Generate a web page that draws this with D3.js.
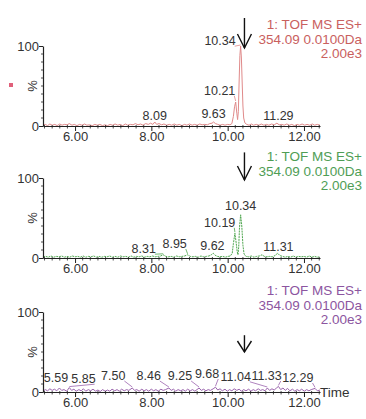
<!DOCTYPE html>
<html>
<head>
<meta charset="utf-8">
<script src="https://cdn.jsdelivr.net/npm/d3@7"></script>
<style>
  html, body { margin: 0; padding: 0; background: #fff; }
  svg { display: block; }
  text { font-family: "Liberation Sans", Arial, sans-serif; }
</style>
</head>
<body>
<svg id="chart" width="366" height="419"></svg>
<script>
// ---------------- DATA ----------------
const timeDomain = [5.16, 12.42];
const xTickValues = [6, 8, 10, 12];
const xTickLabels = ["6.00", "8.00", "10.00", "12.00"];
const yTickValues = [0, 100];
const yTickLabels = ["0", "100"];
const headerLines = ["1: TOF MS ES+", "354.09 0.0100Da", "2.00e3"];
const arrowTime = 10.44;

// trace 1 (red) [time, %]
const trace1 = [[5.16,1],[5.22,2],[5.28,0.5],[5.34,2.5],[5.40,1],[5.47,2],[5.53,0.5],[5.60,2.5],[5.66,1],[5.72,2],[5.79,1.5],[5.85,3],[5.92,1],[5.98,2],[6.05,0.5],[6.12,2],[6.18,1],[6.25,2.5],[6.31,1],[6.38,1.5],[6.45,0.5],[6.52,2],[6.58,1],[6.65,2],[6.72,0.5],[6.78,1.5],[6.85,0.5],[6.92,2],[6.98,1],[7.05,2.5],[7.12,1],[7.18,2],[7.25,0.5],[7.32,2.5],[7.38,1],[7.45,2],[7.52,1.5],[7.58,3],[7.65,1.5],[7.72,2.5],[7.78,1],[7.85,3],[7.92,2],[7.98,3.5],[8.04,2],[8.09,5],[8.14,2],[8.20,3],[8.27,1.5],[8.33,2.5],[8.40,1],[8.47,2],[8.53,1],[8.60,2.5],[8.67,1],[8.73,2],[8.80,0.5],[8.87,2],[8.93,1],[9.00,2.5],[9.07,1],[9.13,2],[9.20,1],[9.27,2.5],[9.33,1.5],[9.40,2],[9.47,1.5],[9.53,3],[9.59,3.5],[9.63,5],[9.68,3],[9.74,2],[9.80,1],[9.87,2],[9.93,1],[10.00,2],[10.06,1.5],[10.11,3],[10.15,12],[10.18,24],[10.21,30],[10.24,16],[10.26,8],[10.28,18],[10.30,55],[10.32,88],[10.34,100],[10.36,85],[10.38,55],[10.40,25],[10.42,10],[10.45,4],[10.50,2],[10.56,1],[10.62,2.5],[10.68,1],[10.75,2],[10.82,1],[10.88,2.5],[10.95,1],[11.02,2],[11.08,1],[11.15,2.5],[11.22,1.5],[11.29,3.5],[11.35,1.5],[11.42,2],[11.48,1],[11.55,2.5],[11.62,1],[11.68,2],[11.75,0.5],[11.82,2],[11.88,1],[11.95,2.5],[12.02,1],[12.08,2],[12.15,1],[12.22,2.5],[12.28,1],[12.35,2],[12.42,1]];

// trace 2 (green)
const trace2 = [[5.16,1.5],[5.23,2],[5.30,1],[5.37,2.5],[5.44,1],[5.51,2],[5.58,1.5],[5.65,2.5],[5.72,1],[5.79,2],[5.86,1],[5.93,2.5],[6.00,1.5],[6.07,2],[6.14,1],[6.21,2.5],[6.28,1],[6.35,2],[6.42,1.5],[6.49,2.5],[6.56,1],[6.63,2],[6.70,1],[6.77,2],[6.84,1.5],[6.91,2.5],[6.98,1],[7.05,2],[7.12,1],[7.19,2.5],[7.26,1.5],[7.33,2],[7.40,1],[7.47,2.5],[7.54,1],[7.61,2],[7.68,1.5],[7.75,2.5],[7.82,1],[7.89,2],[7.96,1.5],[8.03,2.5],[8.10,1.5],[8.17,2],[8.24,2.5],[8.31,4],[8.38,2],[8.45,1.5],[8.52,2],[8.59,1],[8.66,2.5],[8.73,1.5],[8.80,2],[8.87,2.5],[8.95,4],[9.02,2],[9.09,1.5],[9.16,2],[9.23,1],[9.30,2.5],[9.37,1.5],[9.44,2],[9.51,2.5],[9.57,4],[9.62,6],[9.67,3.5],[9.73,2],[9.80,1.5],[9.87,2],[9.94,1],[10.01,2],[10.07,2.5],[10.12,6],[10.15,18],[10.19,31],[10.22,20],[10.25,8],[10.27,4],[10.29,14],[10.31,38],[10.34,54],[10.37,40],[10.40,16],[10.43,5],[10.48,2],[10.55,1.5],[10.62,2.5],[10.69,1],[10.76,2],[10.83,2.5],[10.90,4],[10.96,2],[11.03,1.5],[11.10,2],[11.17,1.5],[11.24,3],[11.31,6],[11.37,3],[11.44,2],[11.51,1],[11.58,2],[11.65,1],[11.72,2.5],[11.79,1],[11.86,2],[11.93,1.5],[12.00,2],[12.07,1],[12.14,2.5],[12.21,1],[12.28,2],[12.35,1],[12.42,1.5]];

// trace 3 (purple)
const trace3 = [[5.16,1],[5.22,3],[5.28,1.5],[5.34,4],[5.40,2],[5.46,3.5],[5.52,1.5],[5.59,5],[5.65,2],[5.71,3],[5.78,1],[5.85,5.5],[5.91,2],[5.97,3.5],[6.03,1],[6.10,3],[6.16,1.5],[6.22,4],[6.28,1],[6.35,3],[6.41,1.5],[6.47,3.5],[6.54,1],[6.60,2.5],[6.66,0.5],[6.72,3],[6.79,1],[6.85,2.5],[6.91,1],[6.97,3.5],[7.04,1.5],[7.10,3],[7.16,1],[7.22,3.5],[7.29,1.5],[7.35,3],[7.41,2],[7.50,5],[7.56,2],[7.62,3],[7.68,1],[7.75,3.5],[7.81,1.5],[7.87,3],[7.93,1],[8.00,3.5],[8.06,1.5],[8.12,3],[8.18,1],[8.25,3.5],[8.31,2],[8.37,3],[8.46,5],[8.52,2],[8.58,3.5],[8.64,1],[8.70,3],[8.77,1.5],[8.83,3],[8.89,1],[8.95,3.5],[9.02,1.5],[9.08,3],[9.14,1],[9.25,5],[9.31,2],[9.37,3.5],[9.43,1.5],[9.49,3],[9.55,2],[9.62,4],[9.68,6],[9.74,2.5],[9.80,4],[9.86,1.5],[9.93,3.5],[9.99,1],[10.05,3],[10.11,1.5],[10.17,4],[10.24,2],[10.30,3.5],[10.36,1],[10.42,3],[10.48,1.5],[10.55,3.5],[10.61,1],[10.67,3],[10.73,1.5],[10.80,4],[10.86,2],[10.92,3],[10.98,1.5],[11.04,5],[11.10,2],[11.16,4],[11.22,2.5],[11.28,5],[11.33,7],[11.39,3],[11.45,5],[11.51,2],[11.57,4.5],[11.63,1.5],[11.70,3.5],[11.76,1],[11.82,3],[11.88,1.5],[11.94,3.5],[12.01,1],[12.07,3],[12.13,1.5],[12.19,3],[12.29,4.5],[12.35,1.5],[12.42,2.5]];

// peak labels: [text, peakTime, peakPct, labelCenterTime, labelBaselinePct]
const labels1 = [["8.09",8.09,5,8.09,7.5],["9.63",9.63,5,9.63,10],["10.21",10.21,30,9.79,39],["10.34",10.34,100,9.80,101],["11.29",11.29,3.5,11.33,7.5]];
const labels2 = [["8.31",8.31,4,7.80,6],["8.95",8.95,4,8.61,12.5],["9.62",9.62,6,9.60,10],["10.19",10.19,31,9.79,39],["10.34",10.34,54,10.34,60],["11.31",11.31,6,11.33,9]];
const labels3 = [["5.59",5.59,5,5.50,12.5],["5.85",5.85,5.5,6.22,11],["7.50",7.50,5,7.00,15],["8.46",8.46,5,7.93,15],["9.25",9.25,5,8.75,15],["9.68",9.68,6,9.46,17.5],["11.04",11.04,5,10.21,14],["11.33",11.33,7,11.02,15],["12.29",12.29,4.5,11.84,12.5]];

// arrow extents in % units per panel: [top, bottom]
const arrows = [[135, 97.5], [132, 97.5], [71, 50]];

const panels = [
  { trace: trace1, labels: labels1, arrow: arrows[0], y0: 126, y100: 46, line: "#e08a8a", text: "#c9605e", dash: null, time: false },
  { trace: trace2, labels: labels2, arrow: arrows[1], y0: 258, y100: 178, line: "#4ea64e", text: "#4f9d55", dash: "2,0.8", time: false },
  { trace: trace3, labels: labels3, arrow: arrows[2], y0: 392, y100: 312, line: "#9a63ad", text: "#8c55a0", dash: null, time: true }
];

// ---------------- DRAW ----------------
const svg = d3.select("#chart");
const x = d3.scaleLinear().domain(timeDomain).range([43, 320]);
const axisColor = "#222";
const labelColor = "#333";

// small marker at left of first panel
svg.append("rect").attr("x", 9).attr("y", 83).attr("width", 4).attr("height", 4).attr("fill", "#e0607a");

panels.forEach((p, i) => {
  const y = d3.scaleLinear().domain([0, 100]).range([p.y0, p.y100]);
  const g = svg.append("g");

  // trace
  g.append("path")
    .datum(p.trace)
    .attr("fill", "none")
    .attr("stroke", p.line)
    .attr("stroke-width", 1)
    .attr("stroke-dasharray", p.dash)
    .attr("d", d3.line().x(d => x(d[0])).y(d => y(d[1])));

  // x axis
  const xAxis = d3.axisBottom(x).tickValues(xTickValues)
    .tickFormat((d, k) => xTickLabels[k]).tickSize(5).tickSizeOuter(0);
  const xg = g.append("g").attr("transform", `translate(0,${p.y0})`).call(xAxis);
  xg.select(".domain").attr("stroke", axisColor).attr("stroke-width", 1.2);
  xg.selectAll(".tick line").attr("stroke", axisColor);
  xg.selectAll(".tick text").attr("font-size", 13).attr("fill", labelColor)
    .attr("font-family", "Liberation Sans, Arial, sans-serif").attr("dy", "0.5em");
  // minor x ticks
  const minorX = d3.range(5.2, 12.41, 0.2).filter(t => !xTickValues.some(v => Math.abs(v - t) < 1e-6));
  g.append("g").selectAll("line").data(minorX).join("line")
    .attr("x1", d => x(d)).attr("x2", d => x(d))
    .attr("y1", p.y0 - 1).attr("y2", p.y0 + 2.5)
    .attr("stroke", axisColor).attr("stroke-width", 0.8);

  // y axis
  const yAxis = d3.axisLeft(y).tickValues(yTickValues)
    .tickFormat((d, k) => yTickLabels[k]).tickSize(4).tickSizeOuter(0);
  const yg = g.append("g").attr("transform", `translate(43,0)`).call(yAxis);
  yg.select(".domain").attr("stroke", axisColor).attr("stroke-width", 1.2);
  yg.selectAll(".tick line").attr("stroke", axisColor);
  yg.selectAll(".tick text").attr("font-size", 13).attr("fill", labelColor)
    .attr("font-family", "Liberation Sans, Arial, sans-serif").attr("x", -4);
  const minorY = d3.range(10, 100, 10);
  g.append("g").selectAll("line").data(minorY).join("line")
    .attr("x1", 41).attr("x2", 43)
    .attr("y1", d => y(d)).attr("y2", d => y(d))
    .attr("stroke", axisColor).attr("stroke-width", 0.8);

  // % label
  g.append("text")
    .attr("transform", `translate(37,${y(50)}) rotate(-90)`)
    .attr("text-anchor", "middle")
    .attr("font-size", 13).attr("fill", labelColor)
    .text("%");

  // header text
  const hdr = [ -97, -82.5, -68 ];
  headerLines.forEach((t, k) => {
    g.append("text").attr("x", 362).attr("y", p.y0 + hdr[k])
      .attr("text-anchor", "end").attr("font-size", 13.5).attr("fill", p.text).text(t);
  });

  // arrow
  const ax = x(arrowTime);
  const ayTop = y(p.arrow[0]), ayBot = y(p.arrow[1]);
  g.append("line").attr("x1", ax).attr("x2", ax).attr("y1", ayTop).attr("y2", ayBot)
    .attr("stroke", "#111").attr("stroke-width", 1.4);
  const headH = i === 2 ? 11 : 14, headW = 7;
  g.append("path")
    .attr("d", `M${ax - headW},${ayBot - headH} L${ax},${ayBot} L${ax + headW},${ayBot - headH}`)
    .attr("fill", "none").attr("stroke", "#111").attr("stroke-width", 1.4);

  // peak labels
  p.labels.forEach(l => {
    const [txt, pt, pp, lt, lp] = l;
    const tx = x(lt), ty = y(lp);
    const te = g.append("text").attr("x", tx).attr("y", ty)
      .attr("text-anchor", "middle").attr("font-size", 12.5).attr("fill", labelColor).text(txt);
    const px = x(pt), py = y(pp);
    if (Math.abs(px - tx) > 4) {
      const w = te.node().getComputedTextLength();
      g.append("line")
        .attr("x1", tx + w / 2 - 1).attr("y1", ty + 1)
        .attr("x2", px).attr("y2", py - 1)
        .attr("stroke", p.line).attr("stroke-width", 0.8);
    }
  });

  if (p.time) {
    g.append("text").attr("x", 320).attr("y", p.y0 + 5)
      .attr("font-size", 13.5).attr("fill", labelColor).text("Time");
  }
});
</script>
</body>
</html>
